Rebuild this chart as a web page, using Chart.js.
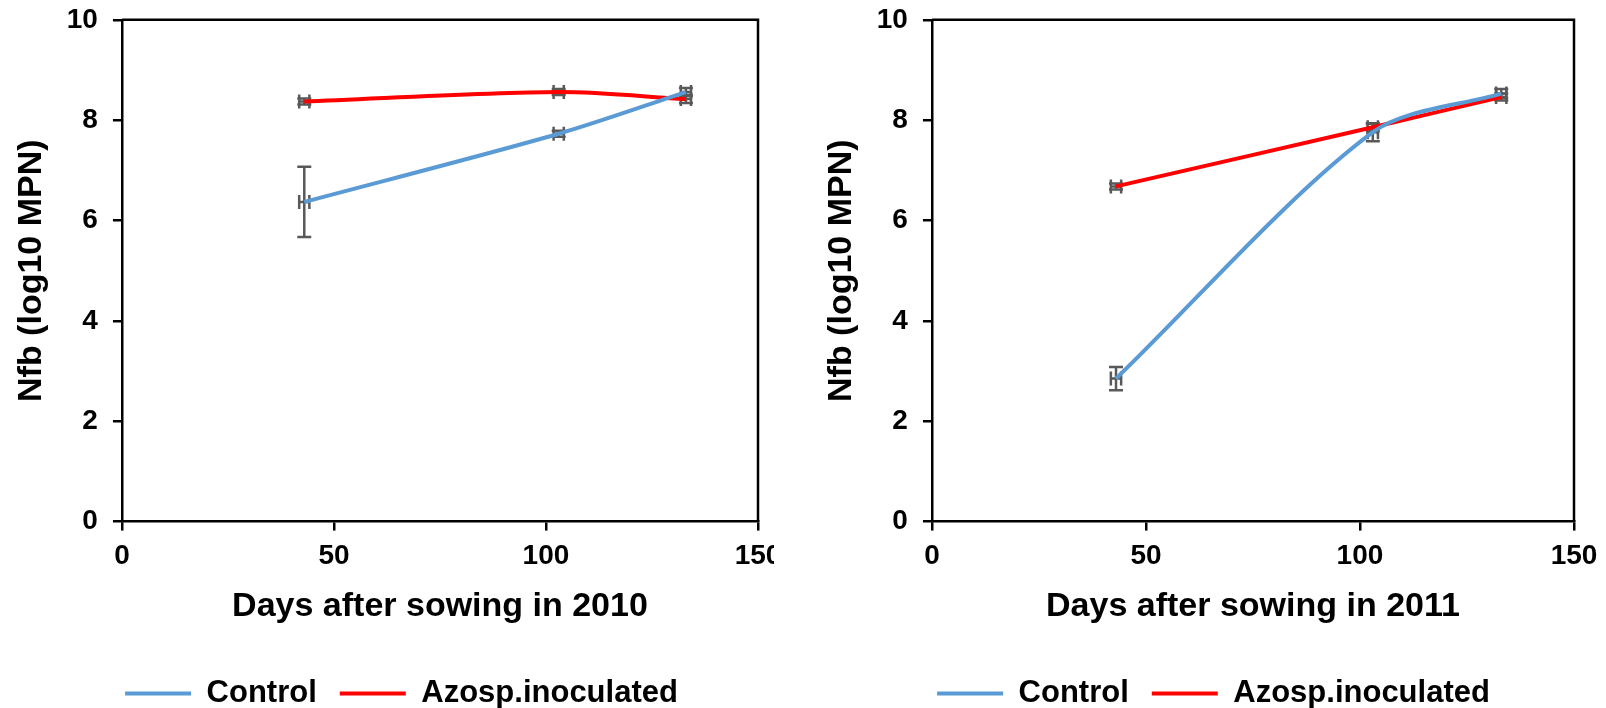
<!DOCTYPE html>
<html>
<head>
<meta charset="utf-8">
<script src="https://cdn.jsdelivr.net/npm/chart.js@4.4.1/dist/chart.umd.min.js"></script>
<style>
  body { margin: 0; background: #fff; width: 1606px; height: 708px; overflow: hidden; position: relative; }
  #wrap2010 { position: absolute; left: 0; top: -12px; width: 774px; height: 731px; overflow: hidden; }
  #wrap2011 { position: absolute; left: 810px; top: -12px; width: 864px; height: 731px; }
</style>
</head>
<body>
<div id="wrap2010"><canvas id="c2010" width="864" height="731"></canvas></div>
<div id="wrap2011"><canvas id="c2011" width="864" height="731"></canvas></div>
<script>
// días de muestreo y valores (log10 MPN) con su error
var dias = [43, 103, 133];
var errDias = [1.2, 1.2, 1.2];

var control2010 = [6.37, 7.73, 8.56];
var errControl2010 = [0.70, 0.06, 0.08];
var azosp2010 = [8.37, 8.56, 8.42];
var errAzosp2010 = [0.06, 0.06, 0.08];

var control2011 = [2.85, 7.76, 8.53];
var errControl2011 = [0.23, 0.18, 0.09];
var azosp2011 = [6.68, 7.86, 8.46];
var errAzosp2011 = [0.06, 0.07, 0.07];

var FUENTE = "'Liberation Sans', Arial, sans-serif";

function puntos(valores, errores) {
    return dias.map(function(d, i) {
        return { x: d, y: valores[i], yErr: errores[i], xErr: errDias[i] };
    });
}

// barras de error en X y en Y, dibujadas bajo las líneas
var barrasError = {
    id: 'barrasError',
    beforeDatasetsDraw: function(chart) {
        var ctx = chart.ctx, sx = chart.scales.x, sy = chart.scales.y;
        var cap = 7;
        ctx.save();
        ctx.strokeStyle = '#595959';
        ctx.lineWidth = 2.5;
        chart.data.datasets.forEach(function(ds) {
            ds.data.forEach(function(p) {
                var px = sx.getPixelForValue(p.x), py = sy.getPixelForValue(p.y);
                var arriba = sy.getPixelForValue(p.y + p.yErr), abajo = sy.getPixelForValue(p.y - p.yErr);
                var izq = sx.getPixelForValue(p.x - p.xErr), der = sx.getPixelForValue(p.x + p.xErr);
                ctx.beginPath();
                ctx.moveTo(px, arriba); ctx.lineTo(px, abajo);
                ctx.moveTo(px - cap, arriba); ctx.lineTo(px + cap, arriba);
                ctx.moveTo(px - cap, abajo); ctx.lineTo(px + cap, abajo);
                ctx.moveTo(izq, py); ctx.lineTo(der, py);
                ctx.moveTo(izq, py - cap); ctx.lineTo(izq, py + cap);
                ctx.moveTo(der, py - cap); ctx.lineTo(der, py + cap);
                ctx.stroke();
            });
        });
        ctx.restore();
    }
};

// marco superior y derecho del área del gráfico
var marco = {
    id: 'marco',
    beforeDatasetsDraw: function(chart) {
        var a = chart.chartArea, ctx = chart.ctx;
        ctx.save();
        ctx.strokeStyle = '#000';
        ctx.lineWidth = 2.5;
        ctx.beginPath();
        ctx.moveTo(a.left, a.top);
        ctx.lineTo(a.right, a.top);
        ctx.lineTo(a.right, a.bottom);
        ctx.stroke();
        ctx.restore();
    }
};

// corre la leyenda hacia la derecha sin mover el área del gráfico
var desplazaLeyenda = {
    id: 'desplazaLeyenda',
    afterLayout: function(chart, args, opts) {
        if (chart.legend && opts.dx) {
            chart.legend.left += opts.dx;
            chart.legend.right += opts.dx;
        }
    }
};

function crearGrafico(id, anio, control, errControl, azosp, errAzosp, padding, dx) {
    var ctx = document.getElementById(id).getContext('2d');
    return new Chart(ctx, {
        type: 'line',
        data: {
            datasets: [{
                label: 'Control',
                data: puntos(control, errControl),
                borderColor: '#5B9BD5',
                backgroundColor: '#5B9BD5',
                borderWidth: 4,
                pointRadius: 0,
                tension: 0.3
            }, {
                label: 'Azosp.inoculated',
                data: puntos(azosp, errAzosp),
                borderColor: '#FF0000',
                backgroundColor: '#FF0000',
                borderWidth: 4,
                pointRadius: 0,
                tension: 0.3
            }]
        },
        options: {
            responsive: false,
            animation: false,
            layout: { padding: padding },
            plugins: {
                tooltip: { enabled: false },
                desplazaLeyenda: { dx: dx },
                legend: {
                    position: 'bottom',
                    labels: {
                        color: '#000',
                        font: { family: FUENTE, size: 31, weight: 'bold' },
                        boxWidth: 66,
                        boxHeight: 4,
                        padding: 23,
                        generateLabels: function(chart) {
                            return chart.data.datasets.map(function(ds, i) {
                                return { text: ds.label, fillStyle: ds.borderColor, strokeStyle: ds.borderColor,
                                         lineWidth: 0, hidden: false, datasetIndex: i, fontColor: '#000' };
                            });
                        }
                    }
                }
            },
            scales: {
                x: {
                    type: 'linear',
                    min: 0,
                    max: 150,
                    ticks: { stepSize: 50, color: '#000', padding: 9,
                             font: { family: FUENTE, size: 28, weight: 'bold' } },
                    grid: { drawOnChartArea: false, color: '#000', lineWidth: 2.5, tickLength: 9 },
                    border: { color: '#000', width: 2.5 },
                    title: { display: true, text: 'Days after sowing in ' + anio, color: '#000',
                             font: { family: FUENTE, size: 34, weight: 'bold' }, padding: { top: 4, bottom: 28 } }
                },
                y: {
                    min: 0,
                    max: 10,
                    ticks: { stepSize: 2, color: '#000', padding: 15,
                             font: { family: FUENTE, size: 28, weight: 'bold' } },
                    grid: { drawOnChartArea: false, color: '#000', lineWidth: 2.5, tickLength: 9 },
                    border: { color: '#000', width: 2.5 },
                    title: { display: true, text: 'Nfb (log10 MPN)', color: '#000',
                             font: { family: FUENTE, size: 34, weight: 'bold' }, padding: { top: 0, bottom: 0 } }
                }
            }
        },
        plugins: [marco, barrasError, desplazaLeyenda]
    });
}

crearGrafico('c2010', 2010, control2010, errControl2010, azosp2010, errAzosp2010,
             { left: 11, right: 106, top: 2, bottom: 0 }, 17);
crearGrafico('c2011', 2011, control2011, errControl2011, azosp2011, errAzosp2011,
             { left: 11, right: 100, top: 2, bottom: 0 }, 16);
</script>
</body>
</html>
